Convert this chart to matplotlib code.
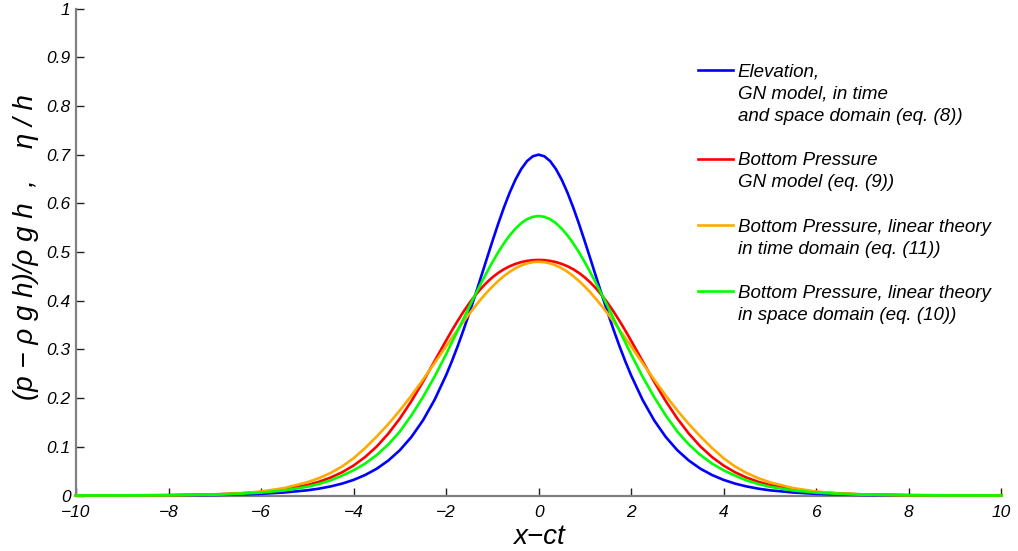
import matplotlib
matplotlib.use("Agg")
import matplotlib.pyplot as plt

# ── Data ──────────────────────────────────────────────────────────────────────

x = [-10, -9, -8, -7, -6.5, -6, -5.5, -5, -4.75, -4.5, -4.25, -4,
     -3.75, -3.5, -3.25, -3, -2.75, -2.5, -2.25, -2,
     -1.875, -1.75, -1.625, -1.5, -1.375, -1.25, -1.125, -1,
     -0.875, -0.75, -0.625, -0.5, -0.375, -0.25, -0.125,
     0,
     0.125, 0.25, 0.375, 0.5, 0.625, 0.75, 0.875,
     1, 1.125, 1.25, 1.375, 1.5, 1.625, 1.75, 1.875,
     2, 2.25, 2.5, 2.75, 3, 3.25, 3.5, 3.75,
     4, 4.25, 4.5, 4.75, 5, 5.5, 6, 6.5, 7, 8, 9, 10]

elevation = [0.0000, 0.0001, 0.0004, 0.0012, 0.0020, 0.0035, 0.0062, 0.0107, 0.0141, 0.0186, 0.0244, 0.0321,
             0.0421, 0.0550, 0.0717, 0.0930, 0.1202, 0.1542, 0.1962, 0.2469,
             0.2756, 0.3065, 0.3394, 0.3740, 0.4101, 0.4472, 0.4846, 0.5216,
             0.5575, 0.5912, 0.6219, 0.6486, 0.6704, 0.6867, 0.6966,
             0.7000,
             0.6966, 0.6867, 0.6704, 0.6486, 0.6219, 0.5912, 0.5575,
             0.5216, 0.4846, 0.4472, 0.4101, 0.3740, 0.3394, 0.3065, 0.2756,
             0.2469, 0.1962, 0.1542, 0.1202, 0.0930, 0.0717, 0.0550, 0.0421,
             0.0321, 0.0244, 0.0186, 0.0141, 0.0107, 0.0062, 0.0035, 0.0020, 0.0012, 0.0004, 0.0001, 0.0000]

pressure_gn = [0.0001, 0.0003, 0.0008, 0.0024, 0.0042, 0.0072, 0.0125, 0.0215, 0.0281, 0.0367, 0.0476, 0.0615,
               0.0790, 0.1006, 0.1269, 0.1580, 0.1938, 0.2335, 0.2757, 0.3181,
               0.3388, 0.3585, 0.3772, 0.3945, 0.4103, 0.4245, 0.4370, 0.4478,
               0.4570, 0.4646, 0.4708, 0.4756, 0.4793, 0.4818, 0.4833,
               0.4838,
               0.4833, 0.4818, 0.4793, 0.4756, 0.4708, 0.4646, 0.4570,
               0.4478, 0.4370, 0.4245, 0.4103, 0.3945, 0.3772, 0.3585, 0.3388,
               0.3181, 0.2757, 0.2335, 0.1938, 0.1580, 0.1269, 0.1006, 0.0790,
               0.0615, 0.0476, 0.0367, 0.0281, 0.0215, 0.0125, 0.0072, 0.0042, 0.0024, 0.0008, 0.0003, 0.0001]

pressure_lin_time = [0.0000, 0.0001, 0.0004, 0.0020, 0.0042, 0.0082, 0.0153, 0.0272, 0.0356, 0.0462, 0.0595, 0.0765,
                     0.0975, 0.1212, 0.1465, 0.1746, 0.2052, 0.2378, 0.2718, 0.3062,
                     0.3234, 0.3403, 0.3568, 0.3728, 0.3881, 0.4027, 0.4164, 0.4290,
                     0.4404, 0.4506, 0.4594, 0.4667, 0.4725, 0.4766, 0.4792,
                     0.4800,
                     0.4792, 0.4766, 0.4725, 0.4667, 0.4594, 0.4506, 0.4404,
                     0.4290, 0.4164, 0.4027, 0.3881, 0.3728, 0.3568, 0.3403, 0.3234,
                     0.3062, 0.2718, 0.2378, 0.2052, 0.1746, 0.1465, 0.1212, 0.0975,
                     0.0765, 0.0595, 0.0462, 0.0356, 0.0272, 0.0153, 0.0082, 0.0042, 0.0020, 0.0004, 0.0001, 0.0000]

pressure_lin_space = [0.0001, 0.0002, 0.0007, 0.0020, 0.0035, 0.0060, 0.0104, 0.0180, 0.0237, 0.0310, 0.0408, 0.0518,
                      0.0656, 0.0832, 0.1047, 0.1313, 0.1644, 0.2020, 0.2439, 0.2900,
                      0.3143, 0.3383, 0.3628, 0.3873, 0.4111, 0.4345, 0.4572, 0.4789,
                      0.4992, 0.5177, 0.5341, 0.5480, 0.5592, 0.5674, 0.5723,
                      0.5740,
                      0.5723, 0.5674, 0.5592, 0.5480, 0.5341, 0.5177, 0.4992,
                      0.4789, 0.4572, 0.4345, 0.4111, 0.3873, 0.3628, 0.3383, 0.3143,
                      0.2900, 0.2439, 0.2020, 0.1644, 0.1313, 0.1047, 0.0832, 0.0656,
                      0.0518, 0.0408, 0.0310, 0.0237, 0.0180, 0.0104, 0.0060, 0.0035, 0.0020, 0.0007, 0.0002, 0.0001]

labels = [
    "Elevation,\nGN model, in time\nand space domain (eq. (8))",
    "Bottom Pressure\nGN model (eq. (9))",
    "Bottom Pressure, linear theory\nin time domain (eq. (11))",
    "Bottom Pressure, linear theory\nin space domain (eq. (10))",
]
colors = ["#0000ff", "#ff0000", "#ffaa00", "#00ff00"]

xticks = list(range(-10, 11, 2))
yticks = [0, 0.1, 0.2, 0.3, 0.4, 0.5, 0.6, 0.7, 0.8, 0.9, 1]
ytick_labels = ["0", "0.1", "0.2", "0.3", "0.4", "0.5", "0.6", "0.7", "0.8", "0.9", "1"]

# ── Figure ────────────────────────────────────────────────────────────────────

plt.rcParams["font.family"] = ["Liberation Sans", "DejaVu Sans"]
plt.rcParams["font.style"] = "italic"

fig = plt.figure(figsize=(10.18, 5.51), dpi=100)
ax = fig.add_axes([0.0747, 0.1007, 0.9087, 0.8838])

series = [elevation, pressure_gn, pressure_lin_time, pressure_lin_space]
for y, c, lab in zip(series, colors, labels):
    ax.plot(x, y, color=c, lw=1.9, label=lab, clip_on=False, zorder=3,
            solid_joinstyle="round")

ax.set_xlim(-10, 10)
ax.set_ylim(0, 1)
ax.set_xticks(xticks)
ax.set_yticks(yticks)
ax.set_yticklabels(ytick_labels)

for side in ["top", "right"]:
    ax.spines[side].set_visible(False)
for side in ["left", "bottom"]:
    ax.spines[side].set_color("#808080")
    ax.spines[side].set_linewidth(1.6)

ax.tick_params(direction="in", length=6, width=1.0, color="#222222",
               labelsize=12.5)
ax.tick_params(axis="x", pad=7)
ax.tick_params(axis="y", pad=4)
for lbl in ax.get_xticklabels() + ax.get_yticklabels():
    lbl.set_fontstyle("italic")

ax.set_xlabel("x\u2212ct", fontsize=20, fontstyle="italic")
ax.xaxis.set_label_coords(0.5, -0.058)
ax.set_ylabel("(p \u2212 \u03c1 g h)/\u03c1 g h  ,    \u03b7 / h",
              fontsize=20, fontstyle="italic")
ax.yaxis.set_label_coords(-0.040, 0.51)

leg = ax.legend(loc="upper left", bbox_to_anchor=(0.672, 0.887), frameon=False,
                fontsize=13.5, handlelength=1.87, handletextpad=0.27,
                labelspacing=1.45, borderpad=0, borderaxespad=0)
for col in leg._legend_handle_box.get_children():
    for row in col.get_children():
        row.align = "top"
for t in leg.get_texts():
    t.set_fontstyle("italic")
    t.set_linespacing(1.4)

fig.savefig("out.png", dpi=100)
